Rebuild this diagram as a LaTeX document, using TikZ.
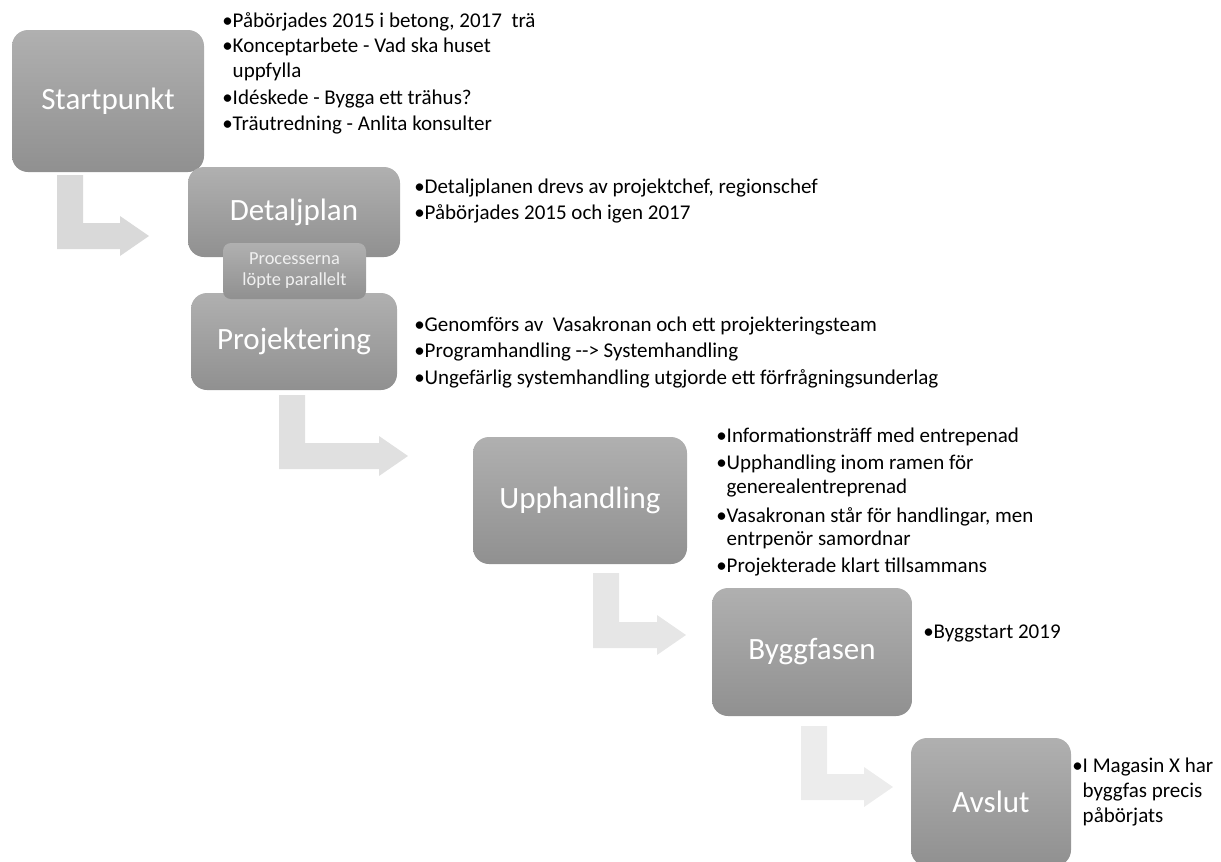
\documentclass[tikz,border=0pt]{standalone}
\usepackage{fontspec}
\setmainfont{Carlito}
\usepackage{tikz}
\definecolor{boxtop}{HTML}{B0B0B0}
\definecolor{boxbot}{HTML}{909090}
\definecolor{arrA}{HTML}{D9D9D9}
\definecolor{arrB}{HTML}{E0E0E0}
\definecolor{arrC}{HTML}{E6E6E6}
\definecolor{arrD}{HTML}{ECECEC}
\definecolor{notetext}{HTML}{F0F0F0}
\newcommand\pxu{0.75pt}
\newcommand\nb{\hphantom{•}}
\tikzset{
  stepbox/.style={rounded corners=12pt, top color=boxtop, bottom color=boxbot,
    text=white, inner sep=0pt, align=center, font=\fontsize{23.25}{28}\selectfont},
  notebox/.style={rounded corners=6pt, top color=boxtop, bottom color=boxbot,
    text=notetext, inner sep=0pt, align=center, font=\fontsize{13.8}{15.75}\selectfont},
  bul/.style={anchor=base west, inner sep=0pt, font=\fontsize{15.75}{18}\selectfont}
}

\begin{document}
\begin{tikzpicture}[x=0.75pt, y=0.75pt]
      \useasboundingbox (0,0) rectangle (1221,-861);
      % bent arrows between the steps
      \foreach \lx/\ty/\by/\tipx/\col in {%
        57/175/249/149/arrA,
        279/395/469/408/arrB,
        593/573/648/686/arrC,
        801/726/800/893/arrD} {
        \fill[fill=\col] (\lx,-\ty) -- (\lx+26,-\ty) -- (\lx+26,26-\by)
          -- (\tipx-29,26-\by) -- (\tipx-29,33-\by) -- (\tipx,13-\by)
          -- (\tipx-29,-7-\by) -- (\tipx-29,-\by) -- (\lx,-\by) -- cycle;
      }
      % steps
      \node[stepbox, minimum width=192*\pxu, minimum height=142*\pxu]
        (start) at (108,-101) {Startpunkt};
      \node[stepbox, minimum width=212*\pxu, minimum height=90*\pxu]
        (detalj) at (294,-212) {Detaljplan};
      \node[stepbox, minimum width=206*\pxu, minimum height=97*\pxu]
        (projekt) at (294,-341.5) {Projektering};
      \node[notebox, minimum width=143*\pxu, minimum height=56*\pxu]
        (parallel) at (294.5,-271) {Processerna\\löpte parallelt};
      \node[stepbox, minimum width=214*\pxu, minimum height=127*\pxu]
        (upph) at (580,-500.5) {Upphandling};
      \node[stepbox, minimum width=200*\pxu, minimum height=128*\pxu]
        (bygg) at (812,-652) {Byggfasen};
      \node[stepbox, minimum width=160*\pxu, minimum height=128*\pxu]
        (avslut) at (991,-802) {Avslut};
      % bullet notes
      \foreach \nx/\ny/\txt [count=\i] in {%
        222/27/{•Påbörjades 2015 i betong, 2017\ \ trä},
        222/52.5/{•Konceptarbete - Vad ska huset},
        222/77/{\nb uppfylla},
        222/104/{•Idéskede - Bygga ett trähus?},
        222/130/{•Träutredning - Anlita konsulter},
        414/193/{•Detaljplanen drevs av projektchef, regionschef},
        414/219/{•Påbörjades 2015 och igen 2017},
        414/331/{•Genomförs av\ \ Vasakronan och ett projekteringsteam},
        414/357/{•Programhandling -{}-> Systemhandling},
        414/384/{•Ungefärlig systemhandling utgjorde ett förfrågningsunderlag},
        716/442/{•Informationsträff med entrepenad},
        716/469/{•Upphandling inom ramen för},
        716/493/{\nb generealentreprenad},
        716/522/{•Vasakronan står för handlingar, men},
        716/545/{\nb entrpenör samordnar},
        716/572/{•Projekterade klart tillsammans},
        923/638/{•Byggstart 2019},
        1072/772/{•I Magasin X har},
        1072/797/{\nb byggfas precis},
        1072/822/{\nb påbörjats}} {
        \node[bul] (note\i) at (\nx,-\ny) {\txt};
      }
    \end{tikzpicture}
\end{document}
